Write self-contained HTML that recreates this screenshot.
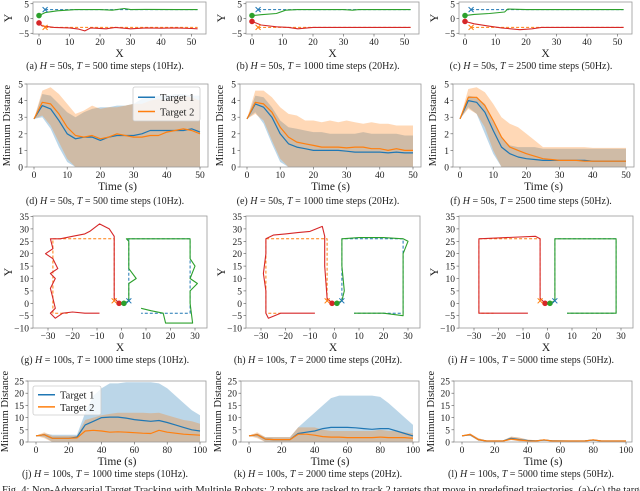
<!DOCTYPE html>
<html><head><meta charset="utf-8">
<style>
html,body{margin:0;padding:0;background:#fff;}
svg{display:block;}
text{font-family:"Liberation Serif","Times New Roman",serif;fill:#222;}
</style></head>
<body>
<svg id="fig" width="640" height="491" viewBox="0 0 640 491" xmlns="http://www.w3.org/2000/svg"></svg>
<script>
// ---------- DATA ----------
const r1RedA=[[0,-1.5],[1,-2.5],[5,-3],[10,-3.2],[13,-3.6],[15,-4.2],[17,-3.2],[22,-3.5],[25,-3],[30,-3.5],[35,-3.2],[40,-3.3],[45,-3.2],[50,-3.4],[52,-3.5]];
const r1GreenA=[[0,1],[2,2],[6,2.6],[12,3],[20,3],[24,2.8],[28,3.4],[30,3],[35,3.1],[45,3],[52,3]];
const r1RedB=[[0,-1],[3,-2.2],[8,-2.8],[12,-3],[15,-3.5],[20,-3],[30,-3],[40,-3],[52,-3]];
const r1GreenB=[[0,1],[3,1.3],[8,1.7],[11,2.8],[15,3],[30,3],[33,2.8],[35,3],[52,3]];
const r1RedC=[[0,-1],[3,-1.8],[8,-2.6],[12,-3.2],[18,-3.8],[22,-3.5],[25,-3],[40,-3],[52,-3]];
const r1GreenC=[[0,1],[3,1.4],[8,1.7],[13,2.2],[14,3.2],[20,3],[40,3],[52,3]];
const r1TargetRed=[[2,-3],[52,-3]];
const r1TargetGreen=[[2,3],[52,3]];
const t50=[0,2.5,5,7.5,10,12.5,15,17.5,20,22.5,25,27.5,30,32.5,35,37.5,40,42.5,45,47.5,50];
const dBlue=[2.9,3.7,3.5,2.8,2.0,1.7,1.8,1.8,1.6,1.8,1.9,1.9,1.9,2.0,2.2,2.2,2.2,2.2,2.2,2.3,2.1];
const dOrange=[2.9,3.9,3.8,3.2,2.4,1.9,1.8,1.9,1.7,1.8,2.0,1.9,1.8,1.8,1.9,1.9,2.1,2.2,2.3,2.2,2.0];
const dBlueHi=[2.9,4.4,4.3,3.8,3.3,3.0,3.3,3.5,3.6,3.6,3.7,3.7,3.8,4.1,4.2,4.3,4.3,4.4,4.4,4.3,4.3];
const dBlueLo=[2.9,3.0,2.3,1.2,0.3,0,0,0,0,0,0,0,0,0,0,0,0,0,0,0,0];
const dOrangeHi=[2.9,4.6,4.8,4.4,3.8,3.2,3.4,3.7,3.5,3.6,3.6,3.7,3.8,3.8,4.0,4.1,4.0,4.2,4.3,4.2,4.0];
const dOrangeLo=[2.9,3.1,2.5,1.5,0.5,0,0,0,0,0,0,0,0,0,0,0,0,0,0,0,0];
const eBlue=[2.9,3.8,3.6,3.0,2.0,1.4,1.2,1.1,1.0,1.0,1.0,1.0,0.95,0.9,0.9,0.9,0.9,0.85,0.9,0.85,0.85];
const eOrange=[2.9,3.9,3.8,3.3,2.4,1.8,1.5,1.4,1.3,1.2,1.2,1.2,1.15,1.2,1.2,1.1,1.1,1.0,1.1,1.0,1.0];
const eBlueHi=[2.9,4.3,4.2,3.6,2.8,2.4,2.3,2.2,2.1,2.1,2.0,2.0,2.0,2.0,2.1,2.0,2.0,2.0,2.0,1.9,1.9];
const eBlueLo=[2.9,3.3,2.6,1.4,0.3,0,0,0,0,0,0,0,0,0,0,0,0,0,0,0,0];
const eOrangeHi=[2.9,4.6,4.6,4.2,3.6,3.2,3.1,2.8,2.8,2.7,2.8,2.7,2.8,2.7,2.6,2.7,2.6,2.6,2.5,2.5,2.5];
const eOrangeLo=[2.9,3.2,2.8,1.6,0.5,0,0,0,0,0,0,0,0,0,0,0,0,0,0,0,0];
const fBlue=[2.9,4.0,3.9,3.3,2.2,1.2,0.8,0.6,0.5,0.45,0.4,0.4,0.4,0.4,0.4,0.4,0.35,0.35,0.35,0.35,0.35];
const fOrange=[2.9,4.2,4.2,3.7,2.8,1.8,1.2,1.0,0.8,0.65,0.5,0.45,0.4,0.4,0.4,0.35,0.35,0.35,0.35,0.35,0.35];
const fBlueHi=[2.9,4.3,4.2,3.8,2.8,1.8,1.3,1.2,1.2,1.2,1.1,1.1,1.1,1.1,1.1,1.1,1.1,1.1,1.1,1.1,1.1];
const fBlueLo=[2.9,3.6,3.2,2.0,0.8,0,0,0,0,0,0,0,0,0,0,0,0,0,0,0,0];
const fOrangeHi=[2.9,4.7,4.8,4.5,3.8,3.0,2.6,2.4,2.0,1.6,1.2,1.2,1.2,1.2,1.2,1.2,1.15,1.15,1.15,1.15,1.15];
const fOrangeLo=[2.9,3.5,3.2,2.4,1.0,0,0,0,0,0,0,0,0,0,0,0,0,0,0,0,0];
const tgtOrange=[[-3,1],[-3,26],[-28,26],[-28,-4],[-22,-4]];
const tgtBlue=[[3,1],[3,26],[28,26],[28,-4],[8,-4]];
const gRed=[[-1,0],[-3,2],[-3,20],[-3,27],[-5,30],[-9,32],[-13,29],[-15,28],[-20,27],[-25,26],[-29,26],[-28,22],[-31,20],[-28,18],[-26,14],[-29,12],[-27,10],[-29,6],[-28,2],[-27,-2],[-29,-4],[-27,-6],[-24,-4],[-20,-3.5],[-15,-4],[-9,-4]];
const gGreen=[[1,0],[3,1],[3,8],[6,10],[3,14],[3,25],[2,26],[10,26],[20,26],[28,26],[28,18],[30,15],[28,10],[31,8],[28,5],[28,0],[29,-8],[18,-8],[17,-4],[12,-3],[8,-2]];
const hRed=[[-1,0],[-3,2],[-4,15],[-4,27],[-5,31],[-10,29],[-15,28.5],[-20,28],[-25,27.5],[-28,26],[-28,20],[-29,12],[-28,5],[-28,-4],[-27,-6],[-22,-4],[-15,-4],[-8,-4]];
const hGreen=[[1,0],[3,1],[4,5],[3,15],[3,26],[10,26.5],[20,26.5],[28,26],[30,25],[28,20],[28,0],[28,-5],[20,-4],[8,-4]];
const iRed=[[-1,0],[-3,2],[-3,26],[-5,27],[-28,26],[-28,-4],[-20,-4],[-8,-4]];
const iGreen=[[1,0],[3,1],[3,26],[15,26],[28,26],[28,-4],[20,-4],[8,-4]];
const t100=[0,5,10,15,20,25,30,35,40,45,50,55,60,65,70,75,80,85,90,95,100];
const jBlue=[2.5,3,1.5,1.5,1.5,2,7,8.5,10,10.2,10.2,9.8,9.2,8.8,8.5,8.8,8,7,6,5,4.5];
const jOrange=[2.5,3,1.5,1.5,1.5,1.7,4.5,4.8,4.5,4.0,4.2,4.0,3.8,3.6,3.5,4.8,4,3.6,3.2,3.0,2.8];
const jBlueHi=[2.5,3.5,3,3,3,3,12,19,22,24,24,24.5,24.5,24.5,24.5,24,22,19,16,13,11];
const jBlueLo=[2.5,2,0,0,0,0,0,0,0,0,0,0,0,0,0,0,0,0,0,0,0];
const jOrangeHi=[2.5,4,2.5,2.5,2.5,2.5,9,10,11,11.5,12,12,12,12,11.8,12,11,10,9,8.5,7.5];
const jOrangeLo=[2.5,1.5,0,0,0,0,0,0,0,0,0,0,0,0,0,0,0,0,0,0,0];
const kBlue=[2.5,3,1.2,1,1,1,3.5,4,4.5,5.5,6,6,6,5.8,5.5,5.2,5.5,5.5,4.5,3.5,2.5];
const kOrange=[2.5,3,1.2,1,1,1,3.2,3.2,2.8,2.2,2,2,1.8,1.8,1.8,1.8,2,1.8,1.8,1.8,1.5];
const kBlueHi=[2.5,3.5,2,2,2,2,6,9,12,15,18,19,19,19,19,19,18.5,16,13,10,7];
const kBlueLo=[2.5,2,0,0,0,0,0,0,0,0,0,0,0,0,0,0,0,0,0,0,0];
const kOrangeHi=[2.5,4,2,2,2,2,6,6,6,5,4.5,4.5,4.5,4.5,4.5,4.5,5,4.5,4.5,4,3.5];
const kOrangeLo=[2.5,1.5,0,0,0,0,0,0,0,0,0,0,0,0,0,0,0,0,0,0,0];
const lBlue=[2.5,3,1,0.4,0.4,0.4,1.5,1.0,0.6,0.5,0.8,0.5,0.5,0.4,0.4,0.5,0.8,0.4,0.4,0.4,0.4];
const lOrange=[2.5,3.1,1,0.4,0.4,0.4,1.2,0.8,0.5,0.4,0.9,0.4,0.4,0.4,0.4,0.4,0.9,0.4,0.4,0.4,0.4];
const lBlueHi=[2.5,3.5,1.5,0.6,0.6,0.6,2.2,1.8,1,0.7,1,0.7,0.6,0.6,0.6,0.6,1,0.6,0.6,0.6,0.6];
const lBlueLo=[2.5,2.5,0.5,0.2,0.2,0.2,0.8,0.3,0.2,0.2,0.5,0.2,0.2,0.2,0.2,0.2,0.5,0.2,0.2,0.2,0.2];
const ticks50=[0,10,20,30,40,50];
const ticks100=[0,20,40,60,80,100];
const ticksY1=[-5,0,5];
const ticksY2=[0,1,2,3,4,5];
const ticksY3=[-10,-5,0,5,10,15,20,25,30,35];
const ticksX3=[-30,-20,-10,0,10,20,30];
const ticksY4=[0,5,10,15,20,25];

// ---------- DRAWING ----------
const NS='http://www.w3.org/2000/svg';
const svg=document.getElementById('fig');
const C={blue:'#1f77b4',orange:'#ff7f0e',green:'#2ca02c',red:'#d62728'};
function mk(tag,attrs,parent){const e=document.createElementNS(NS,tag);for(const k in attrs)e.setAttribute(k,attrs[k]);(parent||svg).appendChild(e);return e;}
function txt(s,x,y,size,anchor,parent,extra){const e=mk('text',Object.assign({x:x,y:y,'font-size':size,'text-anchor':anchor||'middle'},extra||{}),parent);e.textContent=s;return e;}

function axes(g,P,xt,yt,xlab,ylab){
  const box=mk('rect',{x:P.x0,y:P.y0,width:P.x1-P.x0,height:P.y1-P.y0,fill:'none',stroke:'#999','stroke-width':0.8},g);
  
  
  xt.forEach(v=>{const x=P.sx(v);mk('line',{x1:x,x2:x,y1:P.y1,y2:P.y1+2.5,stroke:'#555','stroke-width':0.6},g);
    const t=txt(String(v).replace('-','\u2212'),x,P.y1+11,9.5,'middle',g);
    
    });
  yt.forEach(v=>{const y=P.sy(v);mk('line',{x1:P.x0-2.5,x2:P.x0,y1:y,y2:y,stroke:'#555','stroke-width':0.6},g);
    const t=txt(String(v).replace('-','\u2212'),P.x0-4,y+3.5,9.5,'end',g);
    
    });
  const xl=txt(xlab,(P.x0+P.x1)/2,P.y1+23,11.5,'middle',g);
  
  
  const yx=P.ylx, yy=(P.y0+P.y1)/2;
  const yl=txt(ylab,yx,yy,ylab.length>2?10.5:12,'middle',g,{transform:`rotate(-90 ${yx} ${yy})`});
  
  
}
function path(g,P,pts,color,w,dash,name){
  const d=pts.map((p,i)=>(i?'L':'M')+P.sx(p[0]).toFixed(1)+','+P.sy(p[1]).toFixed(1)).join('');
  const e=mk('path',{d:d,fill:'none',stroke:color,'stroke-width':w,'stroke-dasharray':dash||'none','stroke-linejoin':'round'},g);
  
  
}
function dot(g,P,p,color){const e=mk('circle',{cx:P.sx(p[0]),cy:P.sy(p[1]),r:2.8,fill:color},g);
  
  }
function cross(g,P,p,color){const x=P.sx(p[0]),y=P.sy(p[1]);
  const e=mk('path',{d:`M${x-2.5},${y-2.5}L${x+2.5},${y+2.5}M${x-2.5},${y+2.5}L${x+2.5},${y-2.5}`,stroke:color,'stroke-width':1},g);
  
  }
function band(g,P,t,lo,hi,color,name){
  let d='';t.forEach((v,i)=>{d+=(i?'L':'M')+P.sx(v).toFixed(1)+','+P.sy(hi[i]).toFixed(1);});
  for(let i=t.length-1;i>=0;i--)d+='L'+P.sx(t[i]).toFixed(1)+','+P.sy(lo[i]).toFixed(1);
  const e=mk('path',{d:d+'Z',fill:color,'fill-opacity':0.3,stroke:'none'},g);
  
  
}
function line(g,P,t,v,color,name){path(g,P,t.map((x,i)=>[x,v[i]]),color,1.2,null,name);}
function caption(letter,H,T,Hz,cx,y){
  const e=mk('text',{x:cx,y:y,'font-size':10,'text-anchor':'middle'});
  
  
  e.innerHTML=`(${letter}) <tspan font-style="italic">H</tspan> = ${H}s, <tspan font-style="italic">T</tspan> = ${T} time steps (${Hz}Hz).`;
}
function legend(g,x,y,w,h){
  const lg=mk('g',{},g);
  
  
  mk('rect',{x:x,y:y,width:w,height:h,fill:'#fff','fill-opacity':0.8,stroke:'#ccc','stroke-width':0.8,rx:2},lg);
  [['Target 1',C.blue],['Target 2',C.orange]].forEach((e,i)=>{
    const yy=y+h*0.3+i*h*0.42;
    const ent=mk('g',{},lg);
    
    
    mk('line',{x1:x+5,x2:x+22,y1:yy,y2:yy,stroke:e[1],'stroke-width':1.5},ent);
    txt(e[0],x+27,yy+4,10.5,'start',ent);
  });
}

const cols=[0,213,426];
const L=['abc','def','ghi','jkl'];
const Hs=[50,50,100,100];
const Ts=[[500,1000,2500],[500,1000,2500],[1000,2000,5000],[1000,2000,5000]];
const Hz=[10,20,50];
const r1Red=[r1RedA,r1RedB,r1RedC], r1Green=[r1GreenA,r1GreenB,r1GreenC];
const r2=[[dBlue,dOrange,dBlueHi,dBlueLo,dOrangeHi,dOrangeLo],[eBlue,eOrange,eBlueHi,eBlueLo,eOrangeHi,eOrangeLo],[fBlue,fOrange,fBlueHi,fBlueLo,fOrangeHi,fOrangeLo]];
const r3=[[gRed,gGreen],[hRed,hGreen],[iRed,iGreen]];
const r4=[[jBlue,jOrange,jBlueHi,jBlueLo,jOrangeHi,jOrangeLo],[kBlue,kOrange,kBlueHi,kBlueLo,kOrangeHi,kOrangeLo],[lBlue,lOrange,lBlueHi,lBlueLo,lBlueHi,lBlueLo]];

cols.forEach((ox,c)=>{
  let g=mk('g',{});
  let P={x0:33+ox,x1:206+ox,y0:2,y1:34,sx:v=>39+ox+v*3.05,sy:v=>18.5-v*2.95,ylx:12+ox};
  axes(g,P,ticks50,ticksY1,'X','Y');
  path(g,P,r1TargetRed,C.orange,1,'3,2','target-2-path');
  path(g,P,r1TargetGreen,C.blue,1,'3,2','target-1-path');
  path(g,P,r1Red[c],C.red,1.1,null,'robot-1-path');
  path(g,P,r1Green[c],C.green,1.1,null,'robot-2-path');
  dot(g,P,r1Red[c][0],C.red);dot(g,P,r1Green[c][0],C.green);
  cross(g,P,r1TargetRed[0],C.orange);cross(g,P,r1TargetGreen[0],C.blue);
  caption(L[0][c],Hs[0],Ts[0][c],Hz[c],105+ox,69);

  g=mk('g',{});
  P={x0:27+ox,x1:208+ox,y0:84,y1:167,sx:v=>34+ox+v*3.32,sy:v=>167-v*16.6,ylx:10+ox};
  const a=r2[c];
  band(g,P,t50,a[3],a[2],C.blue,'target-1-band');
  band(g,P,t50,a[5],a[4],C.orange,'target-2-band');
  line(g,P,t50,a[0],C.blue,'target-1-line');
  line(g,P,t50,a[1],C.orange,'target-2-line');
  axes(g,P,ticks50,ticksY2,'Time (s)','Minimum Distance');
  if(c===0)legend(g,133,87,67,34);
  caption(L[1][c],Hs[1],Ts[1][c],Hz[c],105+ox,204);

  g=mk('g',{});
  P={x0:33+ox,x1:207+ox,y0:216,y1:328,sx:v=>121.5+ox+v*2.45,sy:v=>303.3-v*2.48,ylx:12+ox};
  axes(g,P,ticksX3,ticksY3,'X','Y');
  path(g,P,tgtOrange,C.orange,1,'3,2','target-2-path');
  path(g,P,tgtBlue,C.blue,1,'3,2','target-1-path');
  path(g,P,r3[c][0],C.red,1.1,null,'robot-1-path');
  path(g,P,r3[c][1],C.green,1.1,null,'robot-2-path');
  dot(g,P,r3[c][0][0],C.red);dot(g,P,r3[c][1][0],C.green);
  cross(g,P,tgtOrange[0],C.orange);cross(g,P,tgtBlue[0],C.blue);
  caption(L[2][c],Hs[2],Ts[2][c],Hz[c],105+ox,363);

  g=mk('g',{});
  P={x0:28+ox,x1:206+ox,y0:381,y1:442,sx:v=>36+ox+v*1.64,sy:v=>442-v*2.44,ylx:8+ox};
  const b=r4[c];
  band(g,P,t100,b[3],b[2],c===2?'#888':C.blue,'target-1-band');
  band(g,P,t100,b[5],b[4],C.orange,'target-2-band');
  line(g,P,t100,b[0],C.blue,'target-1-line');
  line(g,P,t100,b[1],C.orange,'target-2-line');
  axes(g,P,ticks100,ticksY4,'Time (s)','Minimum Distance');
  if(c===0)legend(g,33,386,68,29);
  caption(L[3][c],Hs[3],Ts[3][c],Hz[c],105+ox,477);
});
const f=mk('text',{x:2,y:493,'font-size':10.5,'text-anchor':'start'});


f.textContent='Fig. 4: Non-Adversarial Target Tracking with Multiple Robots: 2 robots are tasked to track 2 targets that move in predefined trajectories. (a)-(c) the target paths';
</script>
</body></html>
